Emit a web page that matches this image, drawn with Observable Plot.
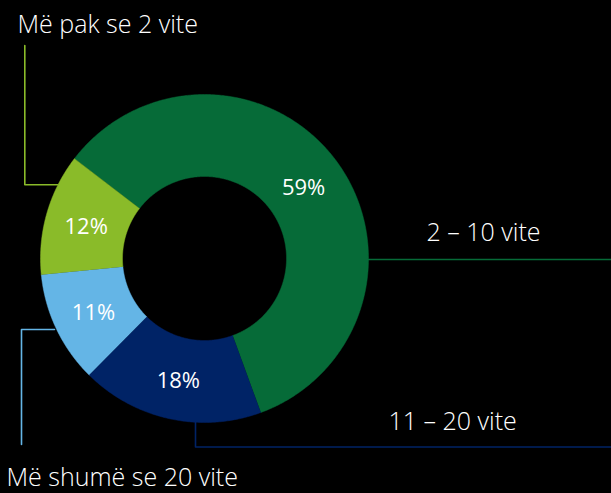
<!DOCTYPE html>
<html>
<head>
<meta charset="utf-8">
<script src="https://cdn.jsdelivr.net/npm/d3@7"></script>
<script src="https://cdn.jsdelivr.net/npm/@observablehq/plot@0.6"></script>
<style>
  html, body { margin: 0; padding: 0; background: #000; }
  #chart svg { display: block; }
</style>
</head>
<body>
<div id="chart"></div>
<script>
// ---- data ----
const categories = ["2 – 10 vite", "11 – 20 vite", "Më shumë se 20 vite", "Më pak se 2 vite"];
const values = [59, 18, 11, 12];
const percentLabels = ["59%", "18%", "11%", "12%"];
const colors = ["#066b38", "#002366", "#64b5e6", "#8abb29"];

// ---- layout ----
const W = 611, H = 493;
const cx = 204, cy = 258, R = 164, r0 = 82;
const startDeg = -52.5;
const fontFam = "'Open Sans', 'Noto Sans', sans-serif";

const total = d3.sum(values);
const toRad = d => d * Math.PI / 180;
const px = (a, rad) => cx + rad * Math.sin(a);
const py = (a, rad) => cy - rad * Math.cos(a);

// slice polygons built from the values
const slicePts = [];
const centroids = [];
let acc = 0;
values.forEach((v, i) => {
  const a0 = toRad(startDeg + 360 * acc / total);
  const a1 = toRad(startDeg + 360 * (acc + v) / total);
  acc += v;
  const n = Math.max(8, Math.ceil((a1 - a0) / toRad(0.5)));
  for (let k = 0; k <= n; k++) {
    const a = a0 + (a1 - a0) * k / n;
    slicePts.push({cat: categories[i], x: px(a, R), y: py(a, R)});
  }
  for (let k = n; k >= 0; k--) {
    const a = a0 + (a1 - a0) * k / n;
    slicePts.push({cat: categories[i], x: px(a, r0), y: py(a, r0)});
  }
  const am = (a0 + a1) / 2, rm = (R + r0) / 2;
  centroids.push({cat: categories[i], label: percentLabels[i], x: px(am, rm), y: py(am, rm) + 2});
});

// leader lines (layout)
const leaders = [
  {cat: categories[0], pts: [[368, 259], [611, 259]]},
  {cat: categories[1], pts: [[195, 421], [195, 446.5], [611, 446.5]]},
  {cat: categories[2], pts: [[54, 329], [21, 329], [21, 444]]},
  {cat: categories[3], pts: [[57, 184.3], [24.3, 184.3], [24.3, 45]]}
];
const leaderPts = leaders.flatMap(l => l.pts.map(([x, y]) => ({cat: l.cat, x, y})));

const catFont = 25;
const catLabels = [
  {text: categories[0], x: 426, base: 240.7},
  {text: categories[1], x: 388, base: 429},
  {text: categories[2], x: 6, base: 485},
  {text: categories[3], x: 17, base: 32.3}
].map(d => ({...d, y: d.base - 0.32 * catFont}));

const chart = Plot.plot({
  width: W,
  height: H,
  margin: 0,
  x: {domain: [0, W], range: [0, W], axis: null},
  y: {domain: [0, H], range: [0, H], axis: null},
  color: {domain: categories, range: colors},
  style: {background: "#000", overflow: "visible"},
  marks: [
    Plot.line(leaderPts, {x: "x", y: "y", z: "cat", stroke: "cat", strokeWidth: 1.6}),
    Plot.line(slicePts, {x: "x", y: "y", z: "cat", fill: "cat", stroke: "cat", strokeWidth: 0.5}),
    Plot.text(centroids, {x: "x", y: "y", text: "label", fill: "#fff", fontSize: 22, fontWeight: 500, fontFamily: fontFam, textAnchor: "middle"}),
    Plot.text(catLabels, {x: "x", y: "y", text: "text", fill: "#fff", fontSize: catFont, fontWeight: 300, fontFamily: fontFam, textAnchor: "start"})
  ]
});
document.getElementById("chart").append(chart);
</script>
</body>
</html>
